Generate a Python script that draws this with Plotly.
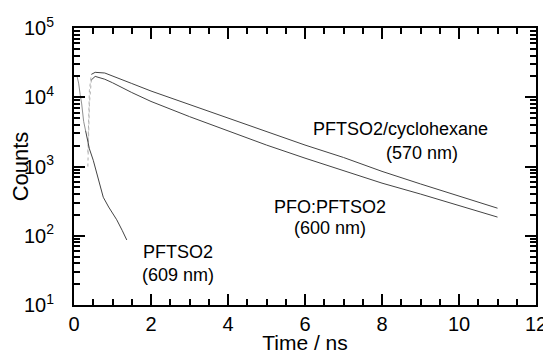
import plotly.graph_objects as go

# PFTSO2/cyclohexane (570 nm)
t_cyclo = [0.36, 0.40, 0.45, 0.55, 0.8, 1.0, 1.5, 2.0, 3.0, 4.0, 5.0, 6.0, 7.0, 8.0, 9.0, 10.0, 11.0]
c_cyclo = [1600, 12600, 21400, 22900, 22400, 20400, 15800, 12300, 7800, 5000, 3160, 2040, 1350, 850, 560, 370, 250]

# PFO:PFTSO2 (600 nm)
t_blend = [0.36, 0.40, 0.45, 0.55, 0.8, 1.0, 1.5, 2.0, 3.0, 4.0, 5.0, 6.0, 7.0, 8.0, 9.0, 10.0, 11.0]
c_blend = [1000, 7900, 17800, 20000, 18200, 16200, 11700, 8700, 5250, 3240, 2040, 1320, 870, 575, 400, 270, 186]

# PFTSO2 (609 nm)
t_film = [0.08, 0.12, 0.16, 0.2, 0.25, 0.3, 0.4, 0.5, 0.6, 0.76, 0.9, 1.11, 1.25, 1.37]
c_film = [20000, 16000, 11000, 8000, 4500, 3300, 1800, 1230, 780, 360, 260, 170, 120, 87]

x_ticks = [0, 2, 4, 6, 8, 10, 12]
y_tick_vals = [10, 100, 1000, 10000, 100000]
y_tick_text = ["10<sup>1</sup>", "10<sup>2</sup>", "10<sup>3</sup>", "10<sup>4</sup>", "10<sup>5</sup>"]

labels = [
    ("PFTSO2/cyclohexane", 8.47, 3.54),
    ("(570 nm)", 9.04, 3.195),
    ("PFO:PFTSO2", 6.65, 2.415),
    ("(600 nm)", 6.65, 2.11),
    ("PFTSO2", 2.70, 1.77),
    ("(609 nm)", 2.70, 1.44),
]

FONT = "Liberation Sans, Arial, sans-serif"

fig = go.Figure()
# faint, sparsely sampled rising edges
for t, c in [(t_cyclo, c_cyclo), (t_blend, c_blend)]:
    fig.add_trace(go.Scatter(x=t[:3], y=c[:3], mode="lines",
                             line=dict(color="#b0b0b0", width=1, dash="dot"),
                             showlegend=False))
    fig.add_trace(go.Scatter(x=t[2:], y=c[2:], mode="lines",
                             line=dict(color="#444444", width=1),
                             showlegend=False))
fig.add_trace(go.Scatter(x=t_film[:6], y=c_film[:6], mode="lines",
                         line=dict(color="#909090", width=1),
                         showlegend=False))
fig.add_trace(go.Scatter(x=t_film[5:], y=c_film[5:], mode="lines",
                         line=dict(color="#444444", width=1),
                         showlegend=False))

for text, x, y in labels:
    fig.add_annotation(x=x, y=y, xref="x", yref="y", text=text, showarrow=False,
                       font=dict(family=FONT, size=18, color="black"),
                       xanchor="center", yanchor="middle")

minor_y = [m * 10 ** d for d in range(1, 5) for m in range(2, 10)]

# page body has an 8px margin, so the figure is offset by 8px right/down
fig.update_layout(
    width=543, height=346,
    margin=dict(l=66, r=15, t=20, b=49),
    paper_bgcolor="white", plot_bgcolor="white",
    font=dict(family=FONT, size=20, color="black"),
    xaxis=dict(
        range=[0, 12], tickvals=x_ticks, ticks="inside", ticklen=11, tickwidth=1.5,
        tickcolor="black", showline=True, linewidth=2, linecolor="black",
        mirror="ticks", showgrid=False, zeroline=False, automargin=False,
        minor=dict(dtick=0.5, ticks="inside", ticklen=6, tickwidth=1.5, tickcolor="black", showgrid=False),
        title=dict(text="Time / ns", font=dict(size=21), standoff=0),
        tickfont=dict(size=20),
    ),
    yaxis=dict(
        type="log", range=[1, 5], tickvals=y_tick_vals, ticktext=y_tick_text,
        ticks="inside", ticklen=11, tickwidth=1.5, tickcolor="black",
        showline=True, linewidth=2, linecolor="black", mirror="ticks",
        showgrid=False, zeroline=False, automargin=False,
        minor=dict(tickvals=minor_y, ticks="inside", ticklen=6, tickwidth=1.5, tickcolor="black", showgrid=False),
        title=dict(text="Counts", font=dict(size=22), standoff=0),
        tickfont=dict(size=20),
        ticklabelstandoff=14,
    ),
)

fig.write_html("out.html")
